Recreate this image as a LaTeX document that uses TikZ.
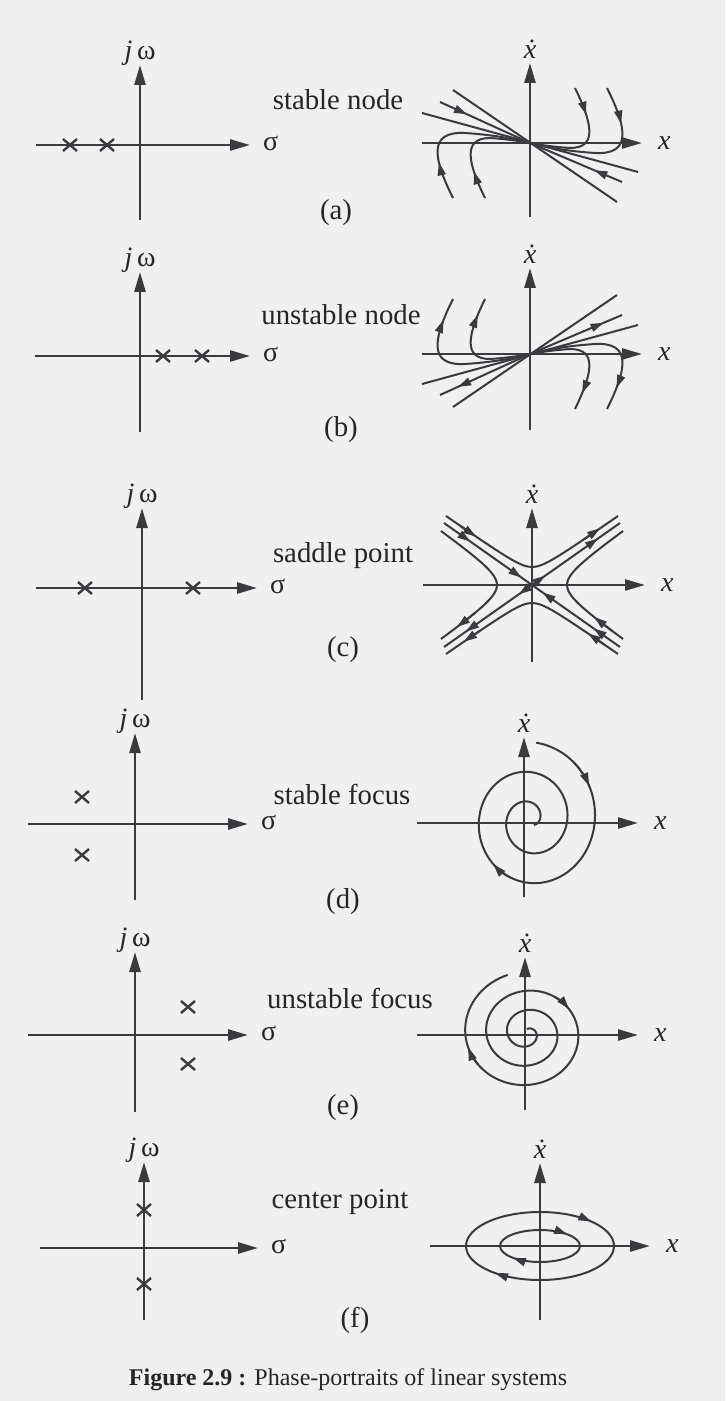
\documentclass[tikz,border=0pt]{standalone}
\usepackage{fontspec}
\setmainfont{Liberation Serif}
\usetikzlibrary{arrows.meta,decorations.markings}
\definecolor{Paper}{HTML}{EEF1EF}
\definecolor{Ink}{HTML}{3B3B3D}
\definecolor{Text}{HTML}{262626}

\tikzset{
  axis/.style={Ink,line width=1.3pt,-{Triangle[length=10pt,width=5.5pt]}},
  trj/.style={Ink,line width=1pt},
  tip/.style={-{Triangle[length=6.5pt,width=4pt]}},
  flow/.style={postaction={decorate},decoration={markings,
      mark=at position #1 with {\arrow{Triangle[length=6.5pt,width=4pt]}}}},
  flowtwo/.style 2 args={postaction={decorate},decoration={markings,
      mark=at position #1 with {\arrow{Triangle[length=6.5pt,width=4pt]}},
      mark=at position #2 with {\arrow{Triangle[length=6.5pt,width=4pt]}}}},
  polemark/.style={Ink,line width=1.2pt},
  lbl/.style={Text,font=\fontsize{14.4}{17}\selectfont},
  axlbl/.style={Text,font=\fontsize{14}{16}\selectfont}
}
\newcommand{\polex}[2]{\draw[polemark] (#1-7,#2-6) -- (#1+7,#2+6) (#1-7,#2+6) -- (#1+7,#2-6);}

\begin{document}
\begin{tikzpicture}[x=0.5pt,y=-0.5pt,
    declare function={rs(\t)=78-\t/12; ru(\t)=4+0.058333*\t;
      hy(\t)=8+sqrt(100+0.49*\t*\t); hx(\t)=10+sqrt(625+\t*\t/0.49);}]
  \fill[Paper] (0,0) rectangle (725,1401);

  % (a) stable node
  \draw[axis] (140,220) -- (140,65);
  \draw[axis] (36,145) -- (250,145);
  \node[axlbl] (jwa) at (140,53) {\textit{j}\,ω};
  \node[axlbl,anchor=west] (sga) at (256,143) {σ};
  \polex{70}{145} \polex{107}{145}
  \node[lbl] (na) at (338,100) {stable node};
  \node[lbl] (ta) at (336,213) {(a)};
  \draw[axis] (530,217) -- (530,63);
  \draw[axis] (422,143) -- (642,143);
  \node[axlbl] (xda) at (530,49) {\textit{\.{x}}};
  \node[axlbl,anchor=west] (xa) at (651,143) {\textit{x}};
  \begin{scope}[shift={(530,143)}]
    \draw[trj] (-77,-53) -- (87,59);
    \draw[trj] (-108,-30) -- (108,29);
    \draw[trj,flow=0.3] (-90,-41) -- (0,0);
    \draw[trj,flow=0.3] (92,39) -- (0,0);
    \draw[trj,flow=0.25] (45,-55) .. controls (62,-20) and (68,5) .. (40,5) .. controls (25,4) and (10,2) .. (0,0);
    \draw[trj,flow=0.25] (77,-55) .. controls (97,-15) and (102,12) .. (65,10) .. controls (35,8) and (15,4) .. (0,0);
    \draw[trj,flow=0.25] (-45,55) .. controls (-62,20) and (-68,-5) .. (-40,-5) .. controls (-25,-4) and (-10,-2) .. (0,0);
    \draw[trj,flow=0.25] (-77,55) .. controls (-97,15) and (-102,-12) .. (-65,-10) .. controls (-35,-8) and (-15,-4) .. (0,0);
  \end{scope}

  % (b) unstable node
  \draw[axis] (140,432) -- (140,272);
  \draw[axis] (35,356) -- (250,356);
  \node[axlbl] (jwb) at (140,260) {\textit{j}\,ω};
  \node[axlbl,anchor=west] (sgb) at (256,354) {σ};
  \polex{163}{356} \polex{202}{356}
  \node[lbl] (nb) at (341,315) {unstable node};
  \node[lbl] (tb) at (341,430) {(b)};
  \draw[axis] (530,430) -- (530,268);
  \draw[axis] (422,354) -- (642,354);
  \node[axlbl] (xdb) at (530,254) {\textit{\.{x}}};
  \node[axlbl,anchor=west] (xb) at (651,354) {\textit{x}};
  \begin{scope}[shift={(530,354)},yscale=-1]
    \draw[trj] (-77,-53) -- (87,59);
    \draw[trj] (-108,-30) -- (108,29);
    \draw[trj,flow=0.8] (0,0) -- (-90,-41);
    \draw[trj,flow=0.8] (0,0) -- (92,39);
    \draw[trj,flow=0.85] (0,0) .. controls (10,2) and (25,4) .. (40,5) .. controls (68,5) and (62,-20) .. (45,-55);
    \draw[trj,flow=0.85] (0,0) .. controls (15,4) and (35,8) .. (65,10) .. controls (102,12) and (97,-15) .. (77,-55);
    \draw[trj,flow=0.85] (0,0) .. controls (-10,-2) and (-25,-4) .. (-40,-5) .. controls (-68,-5) and (-62,20) .. (-45,55);
    \draw[trj,flow=0.85] (0,0) .. controls (-15,-4) and (-35,-8) .. (-65,-10) .. controls (-102,-12) and (-97,15) .. (-77,55);
  \end{scope}

  % (c) saddle point
  \draw[axis] (142,700) -- (142,508);
  \draw[axis] (36,588) -- (257,588);
  \node[axlbl] (jwc) at (142,496) {\textit{j}\,ω};
  \node[axlbl,anchor=west] (sgc) at (263,586) {σ};
  \polex{85}{588} \polex{193}{588}
  \node[lbl] (nc) at (343,556) {saddle point};
  \node[lbl] (tc) at (343,650) {(c)};
  \draw[axis] (532,662) -- (532,508);
  \draw[axis] (423,585) -- (645,585);
  \node[axlbl] (xdc) at (532,494) {\textit{\.{x}}};
  \node[axlbl,anchor=west] (xc) at (654,585) {\textit{x}};
  \begin{scope}[shift={(532,585)}]
    \draw[trj,flowtwo={0.3}{0.88}] (-88,-62) -- (0,0);
    \draw[trj,flowtwo={0.3}{0.88}] (88,62) -- (0,0);
    \draw[trj,flowtwo={0.15}{0.75}] (0,0) -- (88,-62);
    \draw[trj,flowtwo={0.15}{0.75}] (0,0) -- (-88,62);
    % hyperbolas
    \draw[trj] plot[domain=-86:86,samples=45,smooth] (\x,{-hy(\x)});
    \draw[trj] plot[domain=-86:86,samples=45,smooth] (\x,{hy(\x)});
    \draw[trj] plot[domain=-54:54,samples=35,smooth] ({-hx(\x)},\x);
    \draw[trj] plot[domain=-54:54,samples=35,smooth] ({hx(\x)},\x);
    \draw[trj,tip] plot[domain=-72:-56,samples=5,smooth] (\x,{-hy(\x)});
    \draw[trj,tip] plot[domain=52:68,samples=5,smooth] (\x,{-hy(\x)});
    \draw[trj,tip] plot[domain=72:56,samples=5,smooth] (\x,{hy(\x)});
    \draw[trj,tip] plot[domain=-52:-68,samples=5,smooth] (\x,{hy(\x)});
    \draw[trj,tip] plot[domain=28:42,samples=5,smooth] ({-hx(\x)},\x);
    \draw[trj,tip] plot[domain=46:32,samples=5,smooth] ({hx(\x)},\x);
  \end{scope}

  % (d) stable focus
  \draw[axis] (135,900) -- (135,733);
  \draw[axis] (28,824) -- (248,824);
  \node[axlbl] (jwd) at (135,721) {\textit{j}\,ω};
  \node[axlbl,anchor=west] (sgd) at (254,822) {σ};
  \polex{82}{797} \polex{82}{855}
  \node[lbl] (nd) at (342,794) {stable focus};
  \node[lbl] (td) at (343,902) {(d)};
  \draw[axis] (524,897) -- (524,737);
  \draw[axis] (417,823) -- (638,823);
  \node[axlbl] (xdd) at (524,723) {\textit{\.{x}}};
  \node[axlbl,anchor=west] (xd) at (647,823) {\textit{x}};
  \draw[trj] plot[domain=5:860,samples=220,smooth]
    ({530+0.92*rs(\x)*sin(\x)},{820-rs(\x)*cos(\x)});
  \draw[trj,tip] plot[domain=40:62,samples=8,smooth]
    ({530+0.92*rs(\x)*sin(\x)},{820-rs(\x)*cos(\x)});
  \draw[trj,tip] plot[domain=200:222,samples=8,smooth]
    ({530+0.92*rs(\x)*sin(\x)},{820-rs(\x)*cos(\x)});

  % (e) unstable focus
  \draw[axis] (135,1112) -- (135,952);
  \draw[axis] (28,1035) -- (248,1035);
  \node[axlbl] (jwe) at (135,940) {\textit{j}\,ω};
  \node[axlbl,anchor=west] (sge) at (254,1033) {σ};
  \polex{188}{1007} \polex{188}{1064}
  \node[lbl] (ne) at (350,998) {unstable focus};
  \node[lbl] (te) at (343,1108) {(e)};
  \draw[axis] (525,1110) -- (525,957);
  \draw[axis] (417,1035) -- (638,1035);
  \node[axlbl] (xde) at (525,943) {\textit{\.{x}}};
  \node[axlbl,anchor=west] (xe) at (647,1035) {\textit{x}};
  \draw[trj] plot[domain=0:1063,samples=260,smooth]
    ({527+ru(\x)*sin(\x)},{1033-0.92*ru(\x)*cos(\x)});
  \draw[trj,tip] plot[domain=755:778,samples=8,smooth]
    ({527+ru(\x)*sin(\x)},{1033-0.92*ru(\x)*cos(\x)});
  \draw[trj,tip] plot[domain=955:975,samples=8,smooth]
    ({527+ru(\x)*sin(\x)},{1033-0.92*ru(\x)*cos(\x)});

  % (f) center point
  \draw[axis] (144,1320) -- (144,1162);
  \draw[axis] (40,1248) -- (258,1248);
  \node[axlbl] (jwf) at (144,1150) {\textit{j}\,ω};
  \node[axlbl,anchor=west] (sgf) at (264,1246) {σ};
  \polex{144}{1210} \polex{144}{1284}
  \node[lbl] (nf) at (340,1202) {center point};
  \node[lbl] (tf) at (355,1320) {(f)};
  \draw[axis] (540,1320) -- (540,1163);
  \draw[axis] (430,1246) -- (650,1246);
  \node[axlbl] (xdf) at (540,1149) {\textit{\.{x}}};
  \node[axlbl,anchor=west] (xf) at (659,1246) {\textit{x}};
  \draw[trj,flowtwo={0.38}{0.9}] (540,1246) ellipse [x radius=74,y radius=34];
  \draw[trj,flowtwo={0.4}{0.9}] (540,1246) ellipse [x radius=40,y radius=16];

  \node[Text,font=\fontsize{12}{14}\selectfont] (cap) at (348,1380)
    {\textbf{Figure 2.9 :} Phase-portraits of linear systems};
\end{tikzpicture}
\end{document}
